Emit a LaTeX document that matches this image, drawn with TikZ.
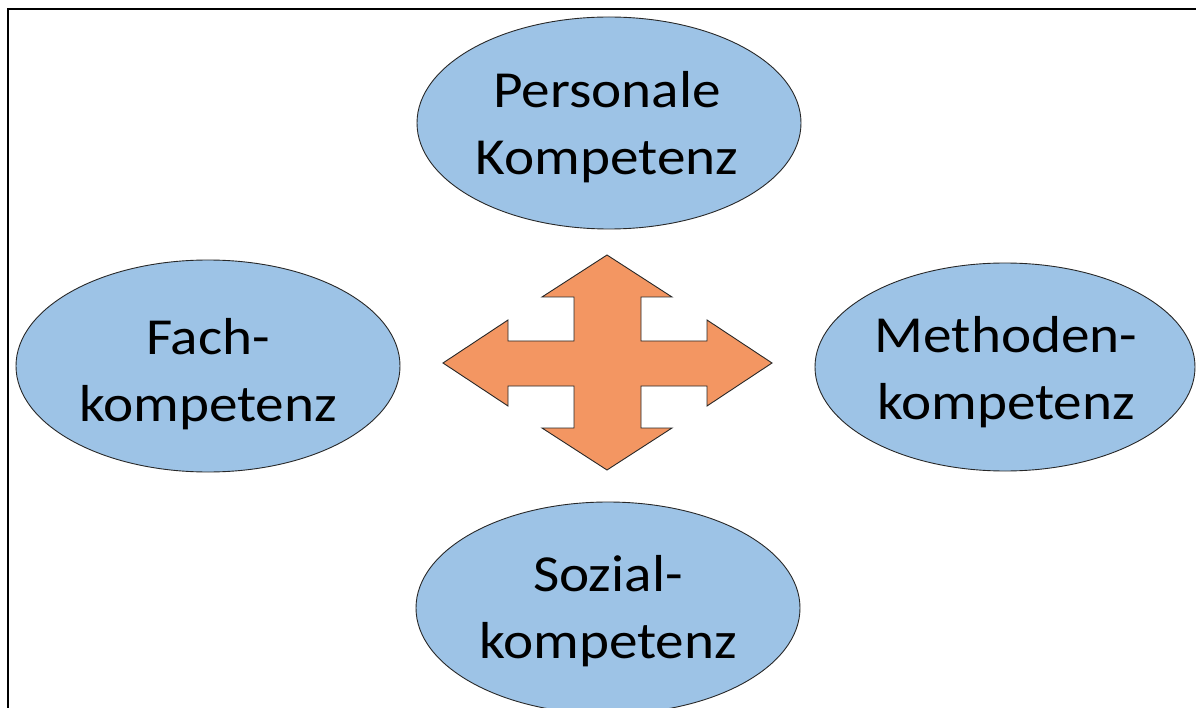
\documentclass[tikz,border=0pt]{standalone}
\usepackage{fontspec}
\setmainfont{Carlito}[FakeStretch=1.1]
\usetikzlibrary{shapes.geometric}
\definecolor{compblue}{RGB}{157,195,230}
\definecolor{arroworange}{RGB}{243,150,98}
\definecolor{outline}{RGB}{40,40,40}
\begin{document}
\begin{tikzpicture}[x=1pt,y=-1pt,
  comp/.style={ellipse,draw=outline,line width=0.9pt,fill=compblue,
    minimum width=384pt,minimum height=212pt,inner sep=0pt},
  comptext/.style={align=center,inner sep=0pt,
    font=\fontsize{52}{66.6}\selectfont},
  framerule/.style={line width=2pt,black}]
\useasboundingbox (0,0) rectangle (1196,708);
\clip (0,0) rectangle (1196,708);
% frame
\coordinate (ftr) at (1196,9);
\coordinate (ftl) at (8,9);
\coordinate (fbl) at (8,708);
\draw[framerule] (ftr) -- (ftl) -- (fbl);
% ellipses
\node[comp] (pers) at (609,123) {};
\node[comp] (fach) at (208,366) {};
\node[comp,minimum width=380pt,minimum height=208pt] (meth) at (1005,367) {};
\node[comp] (sozi) at (608,608) {};
% texts
\node[comptext] (perst) at (607,127) {Personale\\Kompetenz};
\node[comptext] (facht) at (208,374) {Fach-\\kompetenz};
\node[comptext] (metht) at (1006,372) {Methoden-\\kompetenz};
\node[comptext] (sozit) at (608,611) {Sozial-\\kompetenz};
% four-way arrow
\draw[fill=arroworange,draw=outline,line width=0.9pt,line join=miter]
  (607,255) -- (672,297) -- (641,297) -- (641,341) -- (707,341) -- (707,320)
  -- (772,363) -- (707,406) -- (707,386) -- (641,386) -- (641,428) -- (672,428)
  -- (607,470) -- (542,428) -- (574,428) -- (574,386) -- (508,386) -- (508,406)
  -- (443,363) -- (508,320) -- (508,341) -- (574,341) -- (574,297) -- (542,297)
  -- cycle;
\end{tikzpicture}
\end{document}
